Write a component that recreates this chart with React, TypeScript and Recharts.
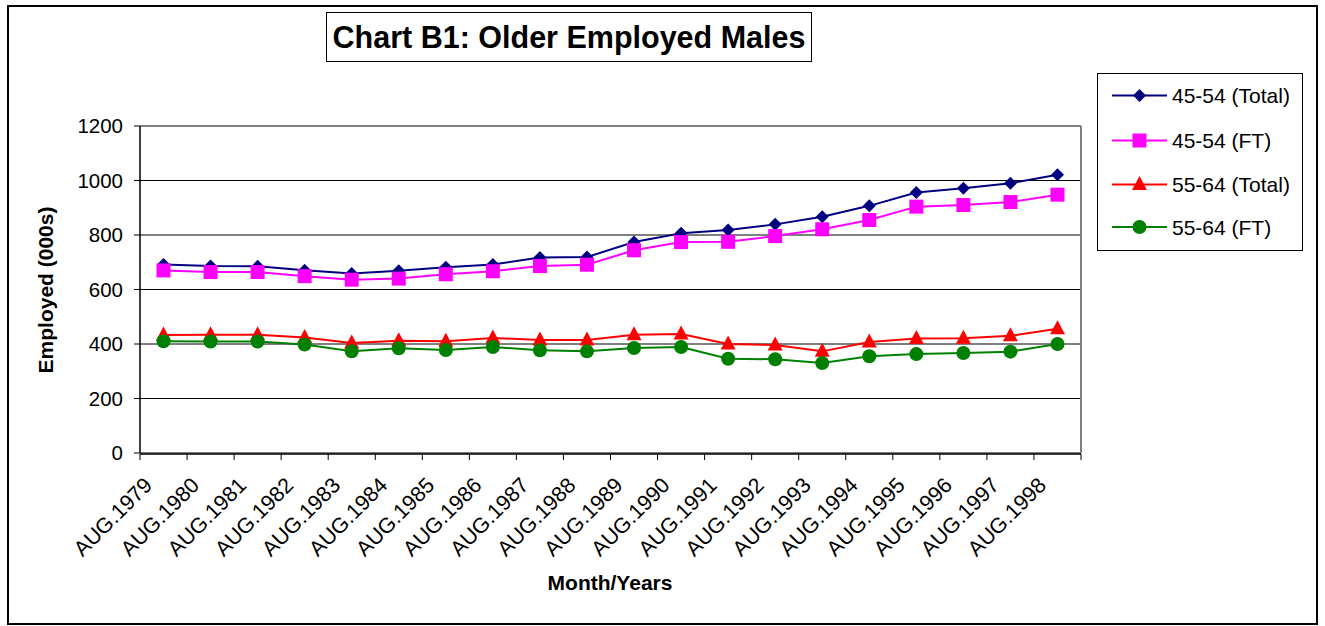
import React from 'react';
import { LineChart, Line, XAxis, YAxis, CartesianGrid, ReferenceLine } from 'recharts';

const categories = ['AUG.1979','AUG.1980','AUG.1981','AUG.1982','AUG.1983','AUG.1984','AUG.1985','AUG.1986','AUG.1987','AUG.1988','AUG.1989','AUG.1990','AUG.1991','AUG.1992','AUG.1993','AUG.1994','AUG.1995','AUG.1996','AUG.1997','AUG.1998'];
const total4554 = [692,686,685,671,659,669,682,692,717,719,774,806,818,839,867,907,956,972,990,1021];
const ft4554 = [670,664,664,649,636,640,656,667,686,691,744,774,775,796,821,855,904,910,921,948];
const total5564 = [433,434,434,424,404,412,410,422,415,415,434,437,400,396,373,407,420,421,430,456];
const ft5564 = [410,409,409,398,373,384,378,389,377,373,385,389,346,344,330,355,363,367,372,400];
const yTicks = [0,200,400,600,800,1000,1200];
const boundaryTicks = Array.from({ length: categories.length + 1 }, (_, i) => i);

const data = categories.map((c, i) => ({
  month: c,
  slot: i + 0.5,
  t4554: total4554[i],
  f4554: ft4554[i],
  t5564: total5564[i],
  f5564: ft5564[i],
}));

const FONT = '"Liberation Sans", Arial, sans-serif';

const Diamond = (p: any) => {
  const { cx, cy, fill } = p;
  if (cx == null || cy == null) return <g />;
  const s = 6.5;
  return <polygon points={`${cx},${cy - s} ${cx + s},${cy} ${cx},${cy + s} ${cx - s},${cy}`} fill={fill} />;
};
const Square = (p: any) => {
  const { cx, cy, fill } = p;
  if (cx == null || cy == null) return <g />;
  const s = 7;
  return <rect x={cx - s} y={cy - s} width={2 * s} height={2 * s} fill={fill} />;
};
const Triangle = (p: any) => {
  const { cx, cy, fill } = p;
  if (cx == null || cy == null) return <g />;
  return <polygon points={`${cx},${cy - 8.5} ${cx + 7.5},${cy + 5.5} ${cx - 7.5},${cy + 5.5}`} fill={fill} />;
};
const Circle = (p: any) => {
  const { cx, cy, fill } = p;
  if (cx == null || cy == null) return <g />;
  return <circle cx={cx} cy={cy} r={7} fill={fill} />;
};

const series = [
  { key: 't4554', name: '45-54 (Total)', color: '#000080', Shape: Diamond },
  { key: 'f4554', name: '45-54 (FT)', color: '#FF00FF', Shape: Square },
  { key: 't5564', name: '55-64 (Total)', color: '#FF0000', Shape: Triangle },
  { key: 'f5564', name: '55-64 (FT)', color: '#008000', Shape: Circle },
];

const XTick = (props: any) => {
  const { x, y, payload } = props;
  const tx = x - 10;
  const ty = y + 33.5;
  return (
    <text x={tx} y={ty} transform={`rotate(-45, ${tx}, ${ty})`} textAnchor="end" fontSize={21.5} fontFamily={FONT} fill="#000">
      {payload.value}
    </text>
  );
};

const NoLabel = () => <g />;

const LegendBox = () => (
  <div style={{ position: 'absolute', left: 1097, top: 73, width: 206, height: 178, border: '1px solid #000', boxSizing: 'border-box', background: '#fff', fontFamily: FONT }}>
    <svg width={204} height={176} style={{ position: 'absolute', left: 0, top: 0 }}>
      {series.map((s, i) => {
        const cy = [21.5, 66.5, 110.5, 153][i];
        const S = s.Shape;
        return (
          <g key={s.key}>
            <line x1={14} x2={69} y1={cy} y2={cy} stroke={s.color} strokeWidth={2} />
            <S cx={41.5} cy={cy} fill={s.color} />
            <text x={74} y={cy} dominantBaseline="central" fontSize={21} fontFamily={FONT} fill="#000">{s.name}</text>
          </g>
        );
      })}
    </svg>
  </div>
);

export default function App() {
  return (
    <div style={{ position: 'absolute', left: 0, top: 0, width: 1325, height: 626, background: '#fff', fontFamily: FONT }}>
      <div style={{ position: 'absolute', left: 7, top: 5, width: 1311, height: 620, border: '2px solid #000', boxSizing: 'border-box' }} />
      <div style={{ position: 'absolute', left: 0, top: 0 }}>
        <LineChart width={1325} height={626} data={data} margin={{ top: 126, right: 244, bottom: 171, left: 80 }}>
          <CartesianGrid vertical={false} stroke="#000" strokeOpacity={1} />
          <XAxis xAxisId="grid" dataKey="slot" type="number" domain={[0, categories.length]} ticks={boundaryTicks} tick={<NoLabel />} height={1} tickSize={6} axisLine={{ stroke: '#000', strokeWidth: 1.5 }} tickLine={{ stroke: '#000' }} allowDataOverflow />
          <XAxis dataKey="month" height={1} interval={0} tickSize={0} tickMargin={0} axisLine={false} tickLine={false} padding={{ left: 23.5, right: 23.5 }} tick={<XTick />} />
          <YAxis domain={[0, 1200]} ticks={yTicks} width={60} tickSize={6} tickMargin={11} axisLine={{ stroke: '#000', strokeWidth: 1.5 }} tickLine={{ stroke: '#000' }} tick={{ fontSize: 20.5, fill: '#000', fontFamily: FONT }} />
          <ReferenceLine y={1200} stroke="#808080" strokeWidth={1.5} />
          <ReferenceLine x={categories.length} xAxisId="grid" stroke="#808080" strokeWidth={2} />
          {series.map((s) => (
            <Line key={s.key} type="linear" dataKey={s.key} name={s.name} stroke={s.color} strokeWidth={2} dot={s.Shape} activeDot={false} isAnimationActive={false} fill={s.color} />
          ))}
        </LineChart>
      </div>
      <div style={{ position: 'absolute', left: 326, top: 12, width: 486, height: 50, border: '1px solid #000', boxSizing: 'border-box', display: 'flex', alignItems: 'center', justifyContent: 'center', fontWeight: 'bold', fontSize: 30.5, background: '#fff' }}>
        Chart B1: Older Employed Males
      </div>
      <LegendBox />
      <div style={{ position: 'absolute', left: 46, top: 290, transform: 'translate(-50%, -50%) rotate(-90deg)', fontWeight: 'bold', fontSize: 21, whiteSpace: 'nowrap' }}>
        Employed (000s)
      </div>
      <div style={{ position: 'absolute', left: 610, top: 583, transform: 'translate(-50%, -50%)', fontWeight: 'bold', fontSize: 21, whiteSpace: 'nowrap' }}>
        Month/Years
      </div>
    </div>
  );
}
